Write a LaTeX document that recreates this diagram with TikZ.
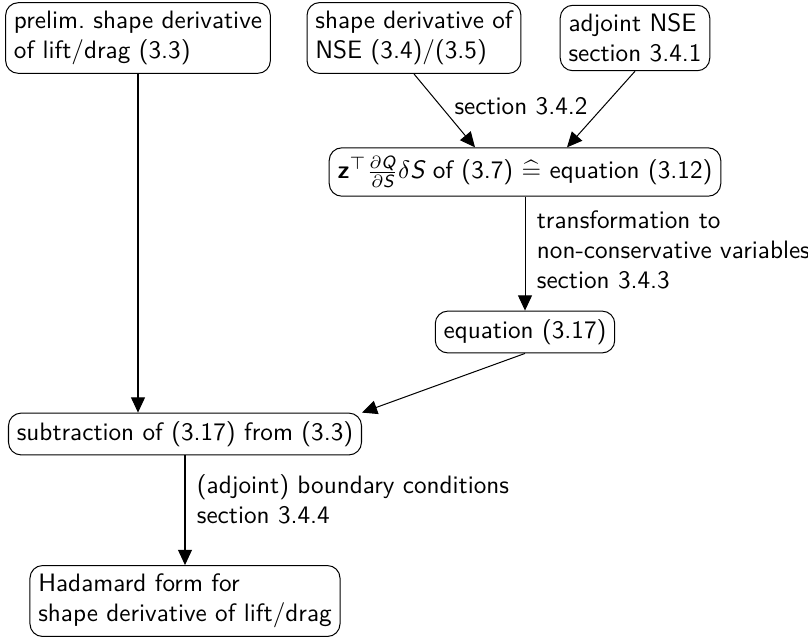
\documentclass[tikz,border=0pt]{standalone}
\usepackage{tikz}
\usepackage{amsmath}
\usetikzlibrary{arrows.meta}
\renewcommand{\familydefault}{\sfdefault}

\tikzset{
  block/.style={draw, rounded corners=5pt, align=left, inner sep=3.3pt},
  flow/.style={-{Triangle[length=6pt,width=5.5pt]}, thin},
}

\begin{document}
\begin{tikzpicture}[x=0.397pt, y=-0.397pt]
\useasboundingbox (0,0) rectangle (808,637);

\node[block] (prelim) at (138,38) {prelim.\ shape derivative\\of lift/drag (3.3)};
\node[block] (nse) at (414,38) {shape derivative of\\NSE (3.4)/(3.5)};
\node[block] (adj) at (635,38) {adjoint NSE\\section 3.4.1};

\node[block] (zq) at (525,172) {$\textbf{z}^\top \frac{\partial \textit{Q}}{\partial \textit{S}} \delta \textit{S}$ of (3.7) $\mathrel{\widehat{=}}$ equation (3.12)};
\node[block] (eq) at (525,332) {equation (3.17)};
\node[block] (sub) at (185,434) {subtraction of (3.17) from (3.3)};
\node[block] (hada) at (185,601) {Hadamard form for\\shape derivative of lift/drag};

\draw[flow] (nse.south) -- (zq.north -| 475,0);
\draw[flow] (adj.south) -- (zq.north -| 567,0);
\node at (521,106) {section 3.4.2};

\draw[flow] (zq.south) -- (eq.north);
\node[anchor=west, align=left] at (528,250) {transformation to\\non-conservative variables\\section 3.4.3};

\draw[flow] (prelim.south) -- (prelim.south |- sub.north);
\draw[flow] (eq.south) -- (sub.north east);

\draw[flow] (sub.south) -- (hada.north);
\node[anchor=west, align=left] at (188,499) {(adjoint) boundary conditions\\section 3.4.4};
\end{tikzpicture}
\end{document}
